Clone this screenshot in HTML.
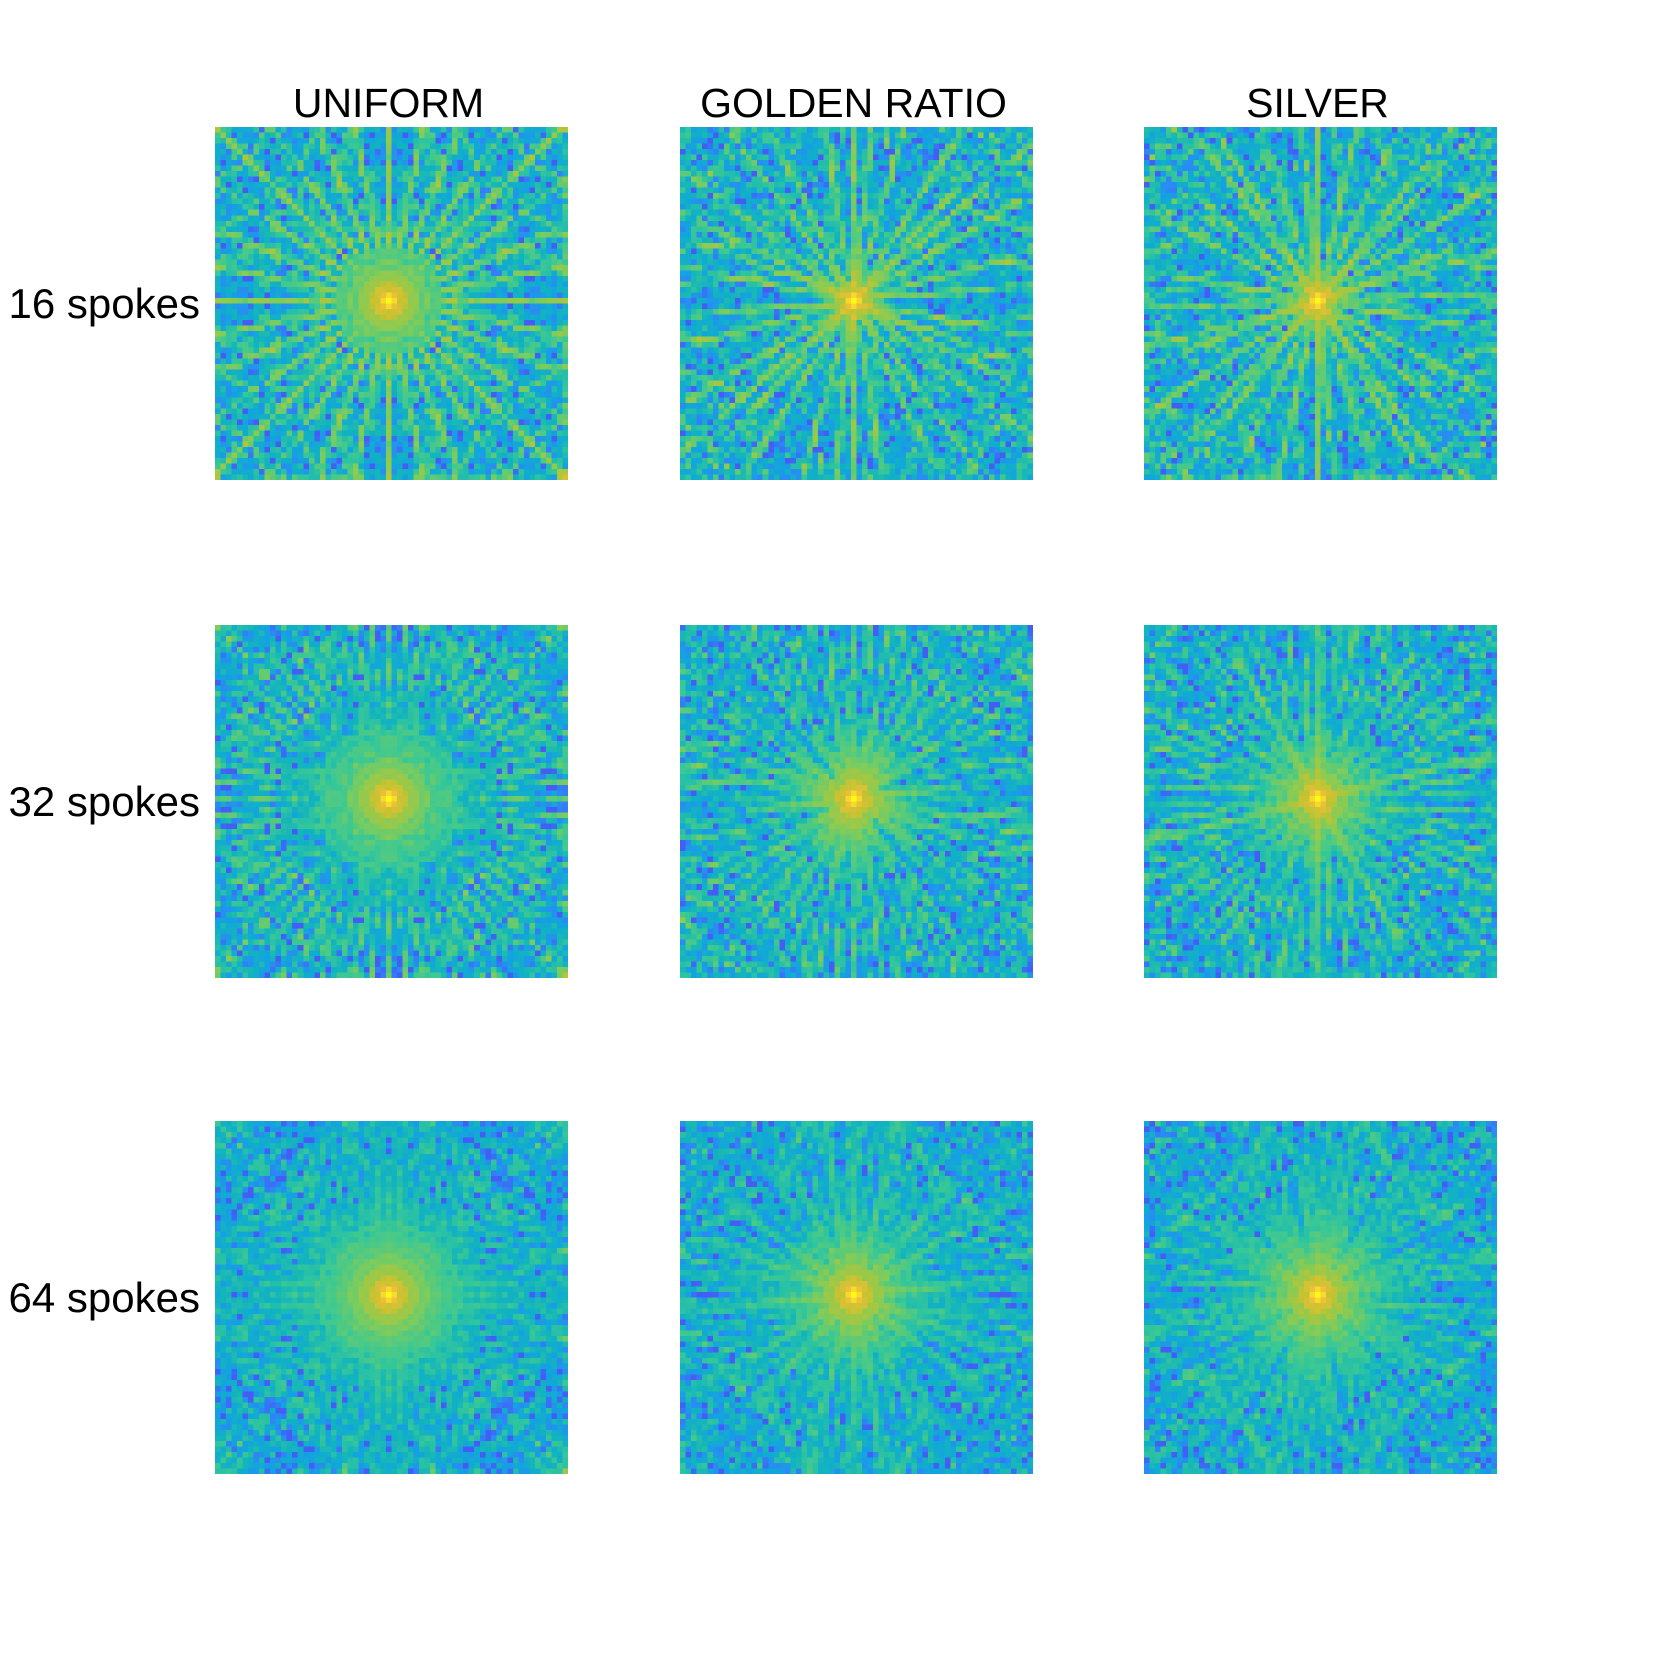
<!DOCTYPE html>
<html><head><meta charset="utf-8">
<style>
html,body{margin:0;padding:0;background:#fff;}
#fig{position:relative;width:1654px;height:1660px;overflow:hidden;font-family:"Liberation Sans",Arial,sans-serif;color:#000;}
canvas{position:absolute;width:353px;height:353px;image-rendering:pixelated;}
.ct{position:absolute;width:353px;text-align:center;font-size:41px;top:80px;}
.rl{position:absolute;width:200px;text-align:right;font-size:42px;left:0;}
</style></head>
<body>
<div id="fig"></div>
<script>
const schemes = ["UNIFORM", "GOLDEN RATIO", "SILVER"];
const spokeCounts = [16, 32, 64];
const schemeAngleDeg = [null, 111.246, 74.558];
const gridSize = 64;
const colX = [215, 680, 1144];
const rowY = [127, 625, 1121];

const fig = document.getElementById('fig');
const parula = [[62,38,168],[72,82,244],[46,135,247],[18,164,223],[18,180,190],[55,200,151],[129,204,89],[193,195,49],[252,190,60],[246,223,42],[249,251,21]];
function cmap(v){
  v=Math.max(0,Math.min(1,v))*(parula.length-1);
  const i=Math.min(parula.length-2,Math.floor(v)), f=v-i;
  return parula[i].map((c,j)=>Math.round(c+(parula[i+1][j]-c)*f));
}
function psf(nSp, scheme){
  const N=gridSize, G=new Float64Array(N*N);
  for(let s=0;s<nSp;s++){
    const th = scheme===0 ? s*Math.PI/nSp : s*schemeAngleDeg[scheme]*Math.PI/180;
    const c=Math.cos(th), sn=Math.sin(th);
    for(let k=-N/2;k<N/2;k++){
      let kx=Math.round(k*c)+N/2, ky=Math.round(k*sn)+N/2;
      if(kx<0||ky<0||kx>=N||ky>=N) continue;
      G[ky*N+kx]+=1;
    }
  }
  const cs=new Float64Array(N*N), sn2=new Float64Array(N*N);
  for(let a=0;a<N;a++)for(let b=0;b<N;b++){const ang=2*Math.PI*a*b/N;cs[a*N+b]=Math.cos(ang);sn2[a*N+b]=Math.sin(ang);}
  const Rr=new Float64Array(N*N), Ri=new Float64Array(N*N);
  for(let ky=0;ky<N;ky++)for(let x=0;x<N;x++){let re=0,im=0;for(let kx=0;kx<N;kx++){const g=G[ky*N+kx];if(!g)continue;re+=g*cs[kx*N+x];im-=g*sn2[kx*N+x];}Rr[ky*N+x]=re;Ri[ky*N+x]=im;}
  const out=new Float64Array(N*N);
  for(let x=0;x<N;x++)for(let y=0;y<N;y++){let re=0,im=0;for(let ky=0;ky<N;ky++){const a=Rr[ky*N+x],b=Ri[ky*N+x],c=cs[ky*N+y],d=-sn2[ky*N+y];re+=a*c-b*d;im+=a*d+b*c;}
    const yy=(y+N/2-1)%N, xx=(x+N/2-1)%N; out[yy*N+xx]=Math.log(Math.sqrt(re*re+im*im)+1e-3);}
  return out;
}
schemes.forEach((name,ci)=>{
  const t=document.createElement('div');
  t.className='ct';t.style.left=(colX[ci]-3)+'px';t.textContent=name;
  
  
  fig.appendChild(t);
});
spokeCounts.forEach((n,ri)=>{
  const l=document.createElement('div');
  l.className='rl';l.style.top=(rowY[ri]+153)+'px';l.textContent=n+' spokes';
  
  
  fig.appendChild(l);
  schemes.forEach((name,ci)=>{
    const cv=document.createElement('canvas');
    cv.width=gridSize;cv.height=gridSize;
    cv.style.left=colX[ci]+'px';cv.style.top=rowY[ri]+'px';
    
    
    fig.appendChild(cv);
    const d=psf(n,ci);
    const sorted=Array.from(d).sort((a,b)=>a-b);
    const lo=sorted[Math.floor(sorted.length*0.03)], hi=sorted[sorted.length-1];
    const ctx=cv.getContext('2d'), im=ctx.createImageData(gridSize,gridSize);
    for(let i=0;i<d.length;i++){const v=Math.max(0,(d[i]-lo)/(hi-lo));const c=cmap(0.12+0.88*v);im.data[4*i]=c[0];im.data[4*i+1]=c[1];im.data[4*i+2]=c[2];im.data[4*i+3]=255;}
    ctx.putImageData(im,0,0);
  });
});
</script>
</body></html>
